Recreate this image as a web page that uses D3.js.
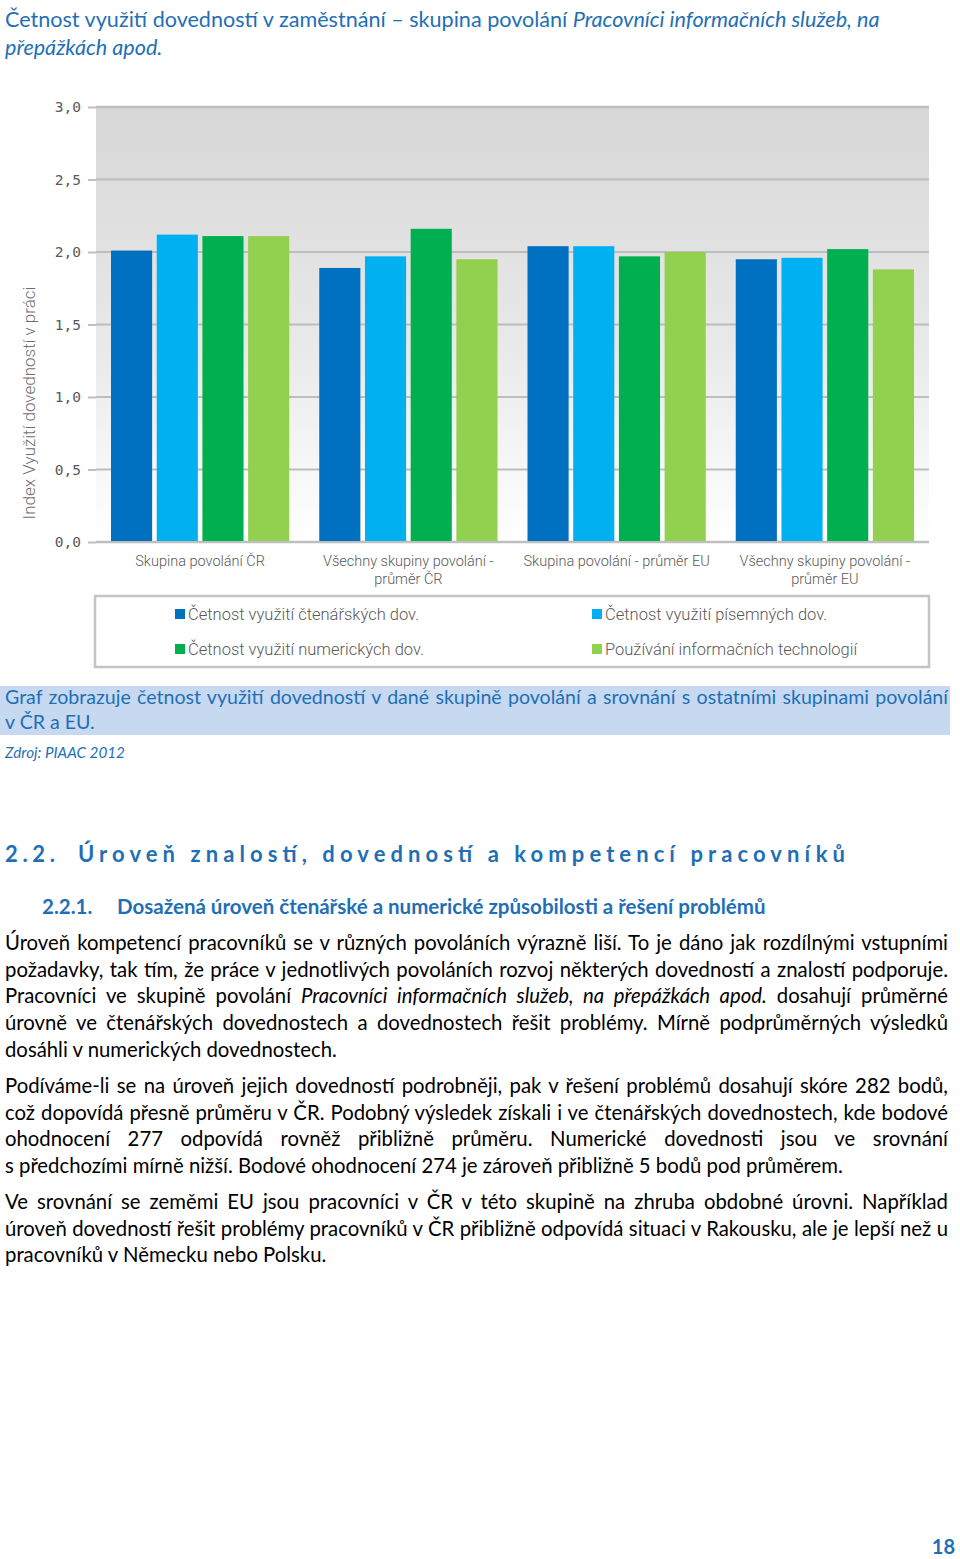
<!DOCTYPE html>
<html><head><meta charset="utf-8">
<script src="https://cdn.jsdelivr.net/npm/d3@7"></script>
<style>
html,body{margin:0;padding:0;background:#fff;}
svg{display:block;}
</style></head>
<body>
<svg id="page" width="960" height="1559"></svg>
<script>
// ---------- DATA ----------
const categories = ["Skupina povolání ČR", "Všechny skupiny povolání - průměr ČR", "Skupina povolání - průměr EU", "Všechny skupiny povolání - průměr EU"];
const categoryLines = [["Skupina povolání ČR"], ["Všechny skupiny povolání -", "průměr ČR"], ["Skupina povolání - průměr EU"], ["Všechny skupiny povolání -", "průměr EU"]];
const seriesNames = ["Četnost využití čtenářských dov.", "Četnost využití písemných dov.", "Četnost využití numerických dov.", "Používání informačních technologií"];
const readingValues = [2.01, 1.89, 2.04, 1.95];
const writingValues = [2.12, 1.97, 2.04, 1.96];
const numeracyValues = [2.11, 2.16, 1.97, 2.02];
const ictValues = [2.11, 1.95, 2.00, 1.88];
const seriesColors = ["#0070C0", "#00B0F0", "#00B050", "#92D050"];
const yTicks = [0, 0.5, 1.0, 1.5, 2.0, 2.5, 3.0];
const yTitle = "Index Využití dovedností v práci";

const titleText = [[["Četnost využití dovedností v zaměstnání – skupina povolání ", false], ["Pracovníci informačních služeb, na", true]], [["přepážkách apod.", true]]];
const captionLines = ["Graf zobrazuje četnost využití dovedností v dané skupině povolání a srovnání s ostatními skupinami povolání", "v ČR a EU."];
const sourceText = "Zdroj: PIAAC 2012";
const headingNum = "2.2.";
const headingText = "Úroveň znalostí, dovedností a kompetencí pracovníků";
const subNum = "2.2.1.";
const subText = "Dosažená úroveň čtenářské a numerické způsobilosti a řešení problémů";
const paragraphs = [
  [
    [["Úroveň kompetencí pracovníků se v různých povoláních výrazně liší. To je dáno jak rozdílnými vstupními", false]],
    [["požadavky, tak tím, že práce v jednotlivých povoláních rozvoj některých dovedností a znalostí podporuje.", false]],
    [["Pracovníci ve skupině povolání ", false], ["Pracovníci informačních služeb, na přepážkách apod.", true], [" dosahují průměrné", false]],
    [["úrovně ve čtenářských dovednostech a dovednostech řešit problémy. Mírně podprůměrných výsledků", false]],
    [["dosáhli v numerických dovednostech.", false]]
  ],
  [
    [["Podíváme-li se na úroveň jejich dovedností podrobněji, pak v řešení problémů dosahují skóre 282 bodů,", false]],
    [["což dopovídá přesně průměru v ČR. Podobný výsledek získali i ve čtenářských dovednostech, kde bodové", false]],
    [["ohodnocení 277 odpovídá rovněž přibližně průměru. Numerické dovednosti jsou ve srovnání", false]],
    [["s předchozími mírně nižší. Bodové ohodnocení 274 je zároveň přibližně 5 bodů pod průměrem.", false]]
  ],
  [
    [["Ve srovnání se zeměmi EU jsou pracovníci v ČR v této skupině na zhruba obdobné úrovni. Například", false]],
    [["úroveň dovedností řešit problémy pracovníků v ČR přibližně odpovídá situaci v Rakousku, ale je lepší než u", false]],
    [["pracovníků v Německu nebo Polsku.", false]]
  ]
];
const pageNumber = "18";

// ---------- LAYOUT ----------
const svg = d3.select("#page");
const BLUE = "#1F6FB6";
const TEXTFONT = "Lato, 'Open Sans', sans-serif";
const CHARTFONT = "Roboto, 'Liberation Sans', sans-serif";

const plot = {left: 96, right: 929, top: 107, bottom: 542};
const y = d3.scaleLinear().domain([0, 3]).range([plot.bottom, plot.top]);
const x0 = d3.scaleBand().domain(categories).range([plot.left, plot.right]).padding(0);
const x1 = d3.scaleBand().domain(seriesNames).range([15, x0.bandwidth() - 15]).paddingInner(0.1).paddingOuter(0);
const seriesValues = [readingValues, writingValues, numeracyValues, ictValues];

// background gradient
const defs = svg.append("defs");
const grad = defs.append("linearGradient").attr("id", "bg").attr("x1", 0).attr("y1", 0).attr("x2", 0).attr("y2", 1);
grad.append("stop").attr("offset", "0%").attr("stop-color", "#d7d7d7");
grad.append("stop").attr("offset", "55%").attr("stop-color", "#e9e9e9");
grad.append("stop").attr("offset", "100%").attr("stop-color", "#ffffff");
svg.append("rect").attr("x", plot.left).attr("y", plot.top).attr("width", plot.right - plot.left).attr("height", plot.bottom - plot.top).attr("fill", "url(#bg)");

// gridlines + ticks
const fmt = v => d3.format(".1f")(v).replace(".", ",");
const yAxis = svg.append("g").attr("transform", `translate(${plot.left},0)`)
  .call(d3.axisLeft(y).tickValues(yTicks).tickFormat(fmt).tickSize(8).tickPadding(7));
yAxis.select(".domain").remove();
yAxis.selectAll(".tick line").attr("stroke", "#bfbfbf").attr("stroke-width", 2);
yAxis.selectAll(".tick text").attr("fill", "#595959").attr("font-family", "'DejaVu Sans Mono', monospace").attr("font-size", 14.5);
svg.append("g").selectAll("line").data(yTicks).join("line")
  .attr("x1", plot.left).attr("x2", plot.right)
  .attr("y1", d => y(d)).attr("y2", d => y(d))
  .attr("stroke", d => d === 0 ? "#bfbfbf" : "#bdbdbd").attr("stroke-width", d => (d === 0 || d === 3) ? 2.5 : 2);

// bars
const groups = svg.append("g").selectAll("g").data(categories).join("g")
  .attr("transform", d => `translate(${x0(d)},0)`);
groups.selectAll("rect").data((c, ci) => seriesNames.map((s, si) => ({s, si, v: seriesValues[si][ci]}))).join("rect")
  .attr("x", d => x1(d.s)).attr("width", x1.bandwidth())
  .attr("y", d => y(d.v)).attr("height", d => y(0) - y(d.v) - 1)
  .attr("fill", d => seriesColors[d.si]);

// category labels
const catG = svg.append("g");
categories.forEach((c, i) => {
  const cx = x0(c) + x0.bandwidth() / 2;
  categoryLines[i].forEach((ln, li) => {
    catG.append("text").attr("x", cx).attr("y", 561 + li * 18).attr("dy", "0.35em")
      .attr("text-anchor", "middle").attr("fill", "#595959").attr("font-family", CHARTFONT).attr("font-weight", 300)
      .attr("font-size", 14.5).text(ln);
  });
});

// y title
svg.append("text").attr("transform", "translate(29,403) rotate(-90)").attr("dy", "0.35em")
  .attr("text-anchor", "middle").attr("fill", "#6f6f6f").attr("font-family", CHARTFONT).attr("font-weight", 300)
  .attr("font-size", 17).text(yTitle);

// legend
svg.append("rect").attr("x", 95).attr("y", 596).attr("width", 834).attr("height", 71)
  .attr("fill", "#fff").attr("stroke", "#c4c4c4").attr("stroke-width", 2.5);
const legPos = [[175, 614], [592, 614], [175, 649], [592, 649]];
seriesNames.forEach((s, i) => {
  const [lx, ly] = legPos[i];
  svg.append("rect").attr("x", lx).attr("y", ly - 5).attr("width", 10).attr("height", 10).attr("fill", seriesColors[i]);
  svg.append("text").attr("x", lx + 13).attr("y", ly).attr("dy", "0.35em").attr("fill", "#595959")
    .attr("font-family", CHARTFONT).attr("font-weight", 300).attr("font-size", 16.5).text(s);
});

// ---------- TEXT HELPERS ----------
function measure(parts, size, weight, family) {
  const t = svg.append("text").attr("font-family", family).attr("font-size", size).attr("font-weight", weight || 400);
  parts.forEach(([s, it]) => t.append("tspan").attr("font-style", it ? "italic" : "normal").text(s));
  const w = t.node().getComputedTextLength();
  t.remove();
  return w;
}
function fitSize(parts, target, weight, family) {
  const w = measure(parts, 20, weight, family);
  return 20 * target / w;
}
function line(parts, x, yy, size, opts) {
  opts = opts || {};
  const t = svg.append("text").attr("x", x).attr("y", yy).attr("dy", "0.35em")
    .attr("font-family", opts.family || TEXTFONT).attr("font-size", size)
    .attr("font-weight", opts.weight || 400).attr("fill", opts.fill || "#000")
    .attr("xml:space", "preserve");
  parts.forEach(([s, it]) => t.append("tspan").attr("font-style", it ? "italic" : "normal").text(s));
  if (opts.justify) {
    const w = t.node().getComputedTextLength();
    const full = parts.map(p => p[0]).join("");
    const spaces = (full.match(/ /g) || []).length;
    if (spaces > 0) t.attr("word-spacing", (opts.justify - w) / spaces);
  }
  if (opts.spread) {
    t.attr("textLength", opts.spread).attr("lengthAdjust", "spacing");
  }
  return t;
}

// title
const titleSize = fitSize(titleText[0], 875, 400, TEXTFONT);
line(titleText[0], 5, 19, titleSize, {fill: BLUE});
line(titleText[1], 5, 47, titleSize, {fill: BLUE});

// caption
svg.append("rect").attr("x", 0).attr("y", 686).attr("width", 950).attr("height", 49).attr("fill", "#C6D9F1");
const capSize = fitSize([[captionLines[0], false]], 925, 400, TEXTFONT);
line([[captionLines[0], false]], 5, 697, capSize, {fill: BLUE, justify: 943});
line([[captionLines[1], false]], 5, 722, capSize, {fill: BLUE});
const srcSize = fitSize([[sourceText, true]], 120, 400, TEXTFONT);
line([[sourceText, true]], 5, 753, srcSize, {fill: BLUE});

// heading
line([[headingNum, false]], 5, 854, 22, {fill: BLUE, weight: 700, spread: 50});
line([[headingText, false]], 78, 854, 22, {fill: BLUE, weight: 700, spread: 767});

// subheading
const subSize = fitSize([[subText, false]], 649, 700, TEXTFONT);
line([[subNum, false]], 42, 907, subSize, {fill: BLUE, weight: 700});
line([[subText, false]], 117, 907, subSize, {fill: BLUE, weight: 700});

// body
const bodySize = fitSize([["dosáhli v numerických dovednostech.", false]], 332, 400, TEXTFONT);
const paraStarts = [943, 1086, 1202];
const lineH = 26.6;
paragraphs.forEach((para, pi) => {
  para.forEach((ln, li) => {
    const last = li === para.length - 1;
    line(ln, 5, paraStarts[pi] + li * lineH, bodySize, {fill: "#000", justify: last ? null : 943});
  });
});

// page number
svg.append("text").attr("x", 955).attr("y", 1547).attr("dy", "0.35em").attr("text-anchor", "end")
  .attr("font-family", TEXTFONT).attr("font-weight", 700).attr("font-size", 20).attr("fill", BLUE).text(pageNumber);
</script>
</body></html>
